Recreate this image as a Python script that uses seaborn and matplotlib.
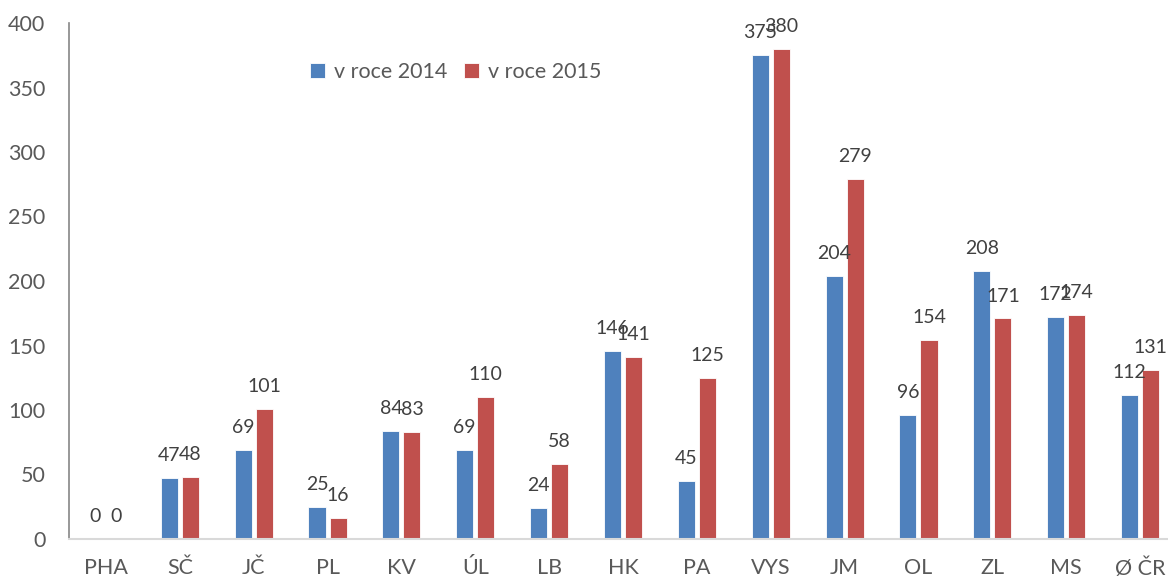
import pandas as pd
import matplotlib.pyplot as plt
import seaborn as sns

# data
kraje = ['PHA', 'SČ', 'JČ', 'PL', 'KV', 'ÚL', 'LB', 'HK', 'PA', 'VYS', 'JM', 'OL', 'ZL', 'MS', 'Ø ČR']
hodnoty_2014 = [0, 47, 69, 25, 84, 69, 24, 146, 45, 375, 204, 96, 208, 172, 112]
hodnoty_2015 = [0, 48, 101, 16, 83, 110, 58, 141, 125, 380, 279, 154, 171, 174, 131]
serie = ['v roce 2014', 'v roce 2015']
barvy = ['#4F81BD', '#C0504D']

df = pd.DataFrame({
    'kraj': kraje * 2,
    'hodnota': hodnoty_2014 + hodnoty_2015,
    'rok': [serie[0]] * len(kraje) + [serie[1]] * len(kraje),
})

sns.set_style('white')
plt.rcParams['font.family'] = ['Lato', 'DejaVu Sans']

fig = plt.figure(figsize=(11.68, 5.79), dpi=100)
ax = fig.add_axes([69 / 1168, 40 / 579, 1108 / 1168, 516 / 579])

sns.barplot(data=df, x='kraj', y='hodnota', hue='rok', palette=barvy, saturation=1,
            width=0.57, gap=0.19, edgecolor='white', linewidth=0.6, ax=ax)

# popisky hodnot nad sloupci
for cont in ax.containers:
    ax.bar_label(cont, padding=10, fontsize=14, color='#404040')

ax.set_ylim(0, 400)
ax.set_xlim(-0.5, 14.5)
ax.set_yticks(range(0, 401, 50))
ax.set_xlabel('')
ax.set_ylabel('')
ax.tick_params(axis='y', length=0, pad=17, labelsize=15.5, labelcolor='#595959')
ax.tick_params(axis='x', length=0, pad=14, labelsize=15.5, labelcolor='#595959')

for s in ['top', 'right']:
    ax.spines[s].set_visible(False)
ax.spines['left'].set_color('#868686')
ax.spines['left'].set_linewidth(1.2)
ax.spines['bottom'].set_color('#D9D9D9')
ax.spines['bottom'].set_linewidth(1.5)

ax.legend(loc='center', bbox_to_anchor=(0.349, 0.905), ncol=2, frameon=False,
          fontsize=15.5, labelcolor='#595959', handlelength=0.7, handleheight=0.7,
          handletextpad=0.4, columnspacing=0.8)

fig.savefig('out.png', dpi=100)
